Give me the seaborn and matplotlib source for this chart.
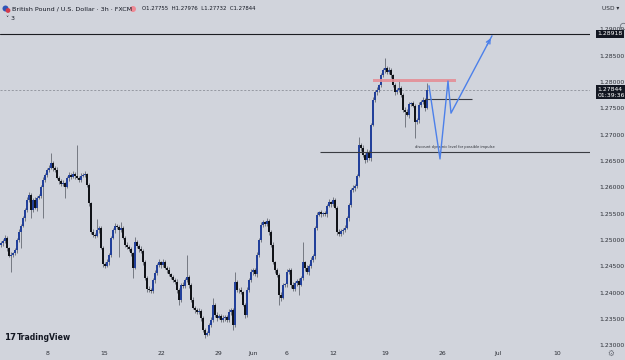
import numpy as np
import pandas as pd
import matplotlib
matplotlib.use("Agg")
import matplotlib.pyplot as plt
import seaborn as sns
from matplotlib.patches import Rectangle, Ellipse

# ---------------- data (GBP/USD 3h) ----------------
first_open = 1.2490
closes = [
    1.2494, 1.2498, 1.2504, 1.2485, 1.2470, 1.2472, 1.2475, 1.2481, 1.2500, 1.2515,
    1.2527, 1.2542, 1.2557, 1.2576, 1.2586, 1.2557, 1.2576, 1.2561, 1.2580, 1.2584,
    1.2601, 1.2614, 1.2624, 1.2633, 1.2637, 1.2646, 1.2637, 1.2633, 1.2618, 1.2612,
    1.2606, 1.2608, 1.2601, 1.2618, 1.2624, 1.2620, 1.2625, 1.2622, 1.2618, 1.2614,
    1.2622, 1.2624, 1.2625, 1.2605, 1.2570, 1.2515, 1.2510, 1.2508, 1.2519, 1.2523,
    1.2485, 1.2454, 1.2451, 1.2458, 1.2472, 1.2504, 1.2519, 1.2527, 1.2525, 1.2519,
    1.2523, 1.2504, 1.2491, 1.2487, 1.2483, 1.2475, 1.2447, 1.2496, 1.2489, 1.2483,
    1.2479, 1.2458, 1.2428, 1.2407, 1.2405, 1.2403, 1.2424, 1.2437, 1.2452, 1.2458,
    1.2452, 1.2458, 1.2447, 1.2443, 1.2435, 1.2430, 1.2424, 1.2420, 1.2405, 1.2386,
    1.2415, 1.2413, 1.2424, 1.2430, 1.2415, 1.2386, 1.2371, 1.2367, 1.2363, 1.2365,
    1.2352, 1.2329, 1.2320, 1.2323, 1.2339, 1.2348, 1.2377, 1.2358, 1.2352, 1.2356,
    1.2348, 1.2352, 1.2354, 1.2348, 1.2363, 1.2367, 1.2339, 1.2420, 1.2405, 1.2405,
    1.2401, 1.2377, 1.2358, 1.2405, 1.2424, 1.2439, 1.2443, 1.2435, 1.2472, 1.2500,
    1.2529, 1.2534, 1.2530, 1.2536, 1.2515, 1.2491, 1.2458, 1.2443, 1.2434, 1.2396,
    1.2390, 1.2415, 1.2416, 1.2439, 1.2443, 1.2415, 1.2407, 1.2418, 1.2422, 1.2415,
    1.2428, 1.2458, 1.2447, 1.2439, 1.2451, 1.2462, 1.2470, 1.2523, 1.2548, 1.2553,
    1.2549, 1.2551, 1.2549, 1.2565, 1.2572, 1.2568, 1.2576, 1.2561, 1.2515, 1.2511,
    1.2517, 1.2519, 1.2523, 1.2542, 1.2566, 1.2595, 1.2599, 1.2603, 1.2622, 1.2681,
    1.2675, 1.2662, 1.2652, 1.2667, 1.2656, 1.2719, 1.2766, 1.2781, 1.2785, 1.2794,
    1.2813, 1.2823, 1.2827, 1.2819, 1.2823, 1.2813, 1.2794, 1.2781, 1.2785, 1.2789,
    1.2776, 1.2747, 1.2743, 1.2738, 1.2758, 1.2760, 1.2755, 1.2724, 1.2728, 1.2756,
    1.2762, 1.2766, 1.2751, 1.27844,
]
upper_wick_pips = [
    4, 3, 6, 3, 2, 5, 3, 4, 3, 5,
    3, 4, 3, 5, 6, 3, 4, 5, 3, 4,
    3, 5, 4, 3, 6, 19, 4, 3, 5, 3,
    4, 6, 3, 4, 5, 3, 6, 4, 59, 3,
    5, 4, 6, 3, 4, 3, 5, 4, 21, 3,
    4, 3, 5, 6, 3, 4, 3, 5, 4, 3,
    12, 4, 3, 5, 3, 4, 3, 10, 4, 3,
    5, 3, 4, 3, 5, 4, 3, 6, 4, 5,
    3, 6, 4, 3, 5, 3, 4, 3, 5, 3,
    4, 5, 3, 42, 4, 3, 5, 3, 4, 6,
    3, 4, 3, 5, 4, 6, 13, 3, 5, 4,
    3, 5, 4, 3, 6, 4, 3, 19, 4, 3,
    5, 3, 4, 6, 3, 5, 4, 3, 5, 4,
    6, 4, 3, 5, 3, 4, 6, 3, 4, 3,
    5, 4, 3, 6, 4, 3, 5, 4, 3, 5,
    4, 38, 3, 5, 4, 6, 3, 4, 5, 3,
    4, 3, 5, 4, 6, 3, 6, 4, 3, 5,
    3, 4, 5, 3, 4, 3, 5, 4, 3, 15,
    4, 5, 3, 6, 4, 3, 5, 4, 6, 3,
    5, 4, 19, 3, 6, 4, 3, 5, 4, 15,
    4, 3, 5, 6, 4, 3, 5, 4, 3, 6,
    4, 5, 3, 13,
]
lower_wick_pips = [
    3, 5, 4, 6, 3, 30, 4, 3, 5, 4,
    30, 3, 5, 4, 3, 15, 4, 3, 5, 3,
    4, 59, 3, 5, 4, 3, 6, 4, 3, 5,
    3, 4, 21, 3, 5, 4, 3, 6, 3, 4,
    4, 3, 5, 4, 6, 3, 5, 4, 3, 5,
    3, 5, 4, 3, 6, 4, 3, 5, 4, 51,
    4, 3, 5, 4, 3, 5, 19, 3, 4, 6,
    3, 5, 4, 6, 3, 4, 3, 5, 4, 3,
    5, 4, 3, 6, 4, 5, 3, 4, 6, 10,
    3, 5, 4, 3, 6, 4, 3, 5, 4, 3,
    5, 4, 6, 3, 4, 5, 3, 4, 6, 3,
    4, 3, 5, 4, 3, 6, 10, 4, 3, 5,
    4, 3, 6, 5, 3, 4, 6, 3, 5, 4,
    3, 5, 4, 3, 6, 4, 3, 5, 4, 19,
    6, 3, 4, 5, 3, 6, 4, 3, 5, 19,
    3, 4, 6, 3, 5, 4, 3, 6, 4, 3,
    5, 3, 4, 6, 3, 5, 4, 3, 6, 4,
    3, 5, 4, 3, 6, 4, 3, 5, 4, 3,
    5, 4, 6, 3, 4, 5, 3, 4, 6, 3,
    4, 3, 5, 4, 3, 6, 4, 5, 3, 4,
    5, 4, 29, 3, 6, 4, 3, 30, 4, 5,
    3, 4, 6, 3,
]

date_tick_bars = [23.5, 51.5, 80, 108.5, 126, 143, 166, 192, 220.5, 248.5, 278]
date_tick_labels = ["8", "15", "22", "29", "Jun", "6", "12", "19", "26", "Jul", "10"]
price_ticks = [1.230, 1.235, 1.240, 1.245, 1.250, 1.255, 1.260, 1.265,
               1.270, 1.275, 1.280, 1.285, 1.290]

resistance_price = 1.28918
last_price = 1.27844
countdown = "01:39:36"
supply_zone_prices = [1.2800, 1.2806]
supply_zone_bars = [186, 227.5]
mid_level_price = 1.2768
mid_level_bars = [212, 235.5]
discount_price = 1.2667
discount_bars = [159.5, 294.5]
path_bars = [214, 219.5, 223.5, 225, 245.5]
path_prices = [1.2793, 1.2654, 1.2802, 1.2741, 1.2888]

# ---------------- styling ----------------
BG = "#d1d4dc"
UP = "#22409a"
DOWN = "#111318"
WICK = "#757982"
TXT = "#2c2f36"
BLUE = "#4c80ea"

sns.set_theme(style="white", rc={"axes.facecolor": BG, "figure.facecolor": BG})
plt.rcParams["font.family"] = ["DejaVu Sans"]

fig = plt.figure(figsize=(6.25, 3.6), dpi=100)
ax = fig.add_axes([0, 13 / 360, 590 / 625, 347 / 360])
ax.set_facecolor(BG)

pip = 0.0001
n = len(closes)
opens = [first_open] + closes[:-1]
df = pd.DataFrame({"bar": np.arange(n), "open": opens, "close": closes})
df["top"] = df[["open", "close"]].max(axis=1)
df["bot"] = df[["open", "close"]].min(axis=1)
df["high"] = df["top"] + np.array(upper_wick_pips) * pip
df["low"] = df["bot"] - np.array(lower_wick_pips) * pip
df["up"] = df["close"] >= df["open"]

ax.vlines(df["bar"], df["low"], df["high"], color=WICK, lw=0.7, zorder=2)
heights = np.maximum(df["top"] - df["bot"], 0.00004)
ax.bar(df["bar"], heights, bottom=df["bot"], width=0.68,
       color=np.where(df["up"], UP, DOWN), linewidth=0, zorder=3)

# horizontal levels
ax.axhline(resistance_price, color="#1b1d22", lw=0.8, zorder=4)
ax.axhline(last_price, color="#8d919a", lw=0.6, ls=(0, (2.5, 2)), zorder=1)
ax.add_patch(Rectangle((supply_zone_bars[0], supply_zone_prices[0]),
                       supply_zone_bars[1] - supply_zone_bars[0],
                       supply_zone_prices[1] - supply_zone_prices[0],
                       facecolor="#e48e96", edgecolor="none", alpha=0.9, zorder=4))
ax.hlines(mid_level_price, mid_level_bars[0], mid_level_bars[1],
          color="#3a3c42", lw=0.8, zorder=4)
ax.hlines(discount_price, discount_bars[0], discount_bars[1],
          color="#3a3c42", lw=0.8, zorder=4)
ax.text(np.mean([207, 246.5]), discount_price + 0.0005,
        "discount dynamic level for possible impulse",
        fontsize=2.6, color=TXT, ha="center", va="bottom", zorder=5)

# projected path
path_df = pd.DataFrame({"bar": path_bars, "price": path_prices})
sns.lineplot(data=path_df, x="bar", y="price", sort=False, estimator=None,
             color=BLUE, lw=1.0, ax=ax, zorder=6)
ax.annotate("", xy=(path_bars[-1], path_prices[-1]),
            xytext=(path_bars[-2] + 0.85 * (path_bars[-1] - path_bars[-2]),
                    path_prices[-2] + 0.85 * (path_prices[-1] - path_prices[-2])),
            arrowprops=dict(arrowstyle="->", color=BLUE, lw=1.0,
                            mutation_scale=7), zorder=6)

# axes
ax.set_xlim(-0.5, 294.5)
ax.set_ylim(1.22967, 1.2956)
ax.set_xlabel("")
ax.set_ylabel("")
for s in ax.spines.values():
    s.set_visible(False)
ax.yaxis.tick_right()
ax.set_yticks(price_ticks)
ax.set_yticklabels([f"{p:.5f}" for p in price_ticks])
ax.tick_params(axis="y", length=0, pad=7, labelsize=4.4, labelcolor=TXT)
ax.set_xticks(date_tick_bars)
ax.set_xticklabels(date_tick_labels)
ax.tick_params(axis="x", length=0, pad=3, labelsize=4.4, labelcolor=TXT)
ax.grid(False)

# price label boxes
ytr = ax.get_yaxis_transform()
ax.text(1.013, resistance_price, f"{resistance_price:.5f}", transform=ytr,
        fontsize=4.4, color="white", ha="left", va="center", zorder=10,
        clip_on=False,
        bbox=dict(boxstyle="square,pad=0.25", fc="#131722", ec="none"))
ax.annotate(f"{last_price:.5f}\n{countdown}", xy=(1.013, last_price), xycoords=ytr,
            xytext=(0, 2.6), textcoords="offset points", fontsize=4.4,
            color="white", ha="left", va="top", linespacing=1.25,
            annotation_clip=False, zorder=10,
            bbox=dict(boxstyle="square,pad=0.25", fc="#131722", ec="none"))

# header / chrome
def px(x, y):
    return x / 625, 1 - y / 360

def dot(x, y, r, color, fill=True, lw=0.6):
    fig.add_artist(Ellipse(px(x, y), 2 * r / 625, 2 * r / 360,
                           transform=fig.transFigure, fc=color if fill else "none",
                           ec=color if not fill else "none", lw=lw))

dot(5.5, 8.5, 3.0, "#2f55b8")
dot(8.0, 10.5, 2.4, "#d33b4a")
fig.text(*px(12, 9), "British Pound / U.S. Dollar · 3h · FXCM", fontsize=4.6,
         color="#131722", va="center", ha="left")
dot(133, 9, 3.0, "#f08a95")
fig.text(*px(142, 9), "O1.27755  H1.27976  L1.27732  C1.27844", fontsize=3.9,
         color="#131722", va="center", ha="left")
fig.text(*px(6, 19), "˅ 3", fontsize=4.4, color="#131722", va="center", ha="left")
fig.text(*px(602, 8), "USD ▾", fontsize=4.2, color=TXT, va="center", ha="left")
dot(623.5, 26.5, 3.2, "#6d717a", fill=False, lw=0.6)
fig.text(*px(4, 338), "17", fontsize=6.2, fontweight="heavy", color="#131722",
         va="center", ha="left")
fig.text(*px(17, 338), "TradingView", fontsize=5.6, fontweight="bold",
         color="#131722", va="center", ha="left")
fig.text(*px(611, 353), "⚙", fontsize=5.5, color="#6d717a", va="center", ha="center")

fig.savefig("out.png", dpi=100, facecolor=BG)
